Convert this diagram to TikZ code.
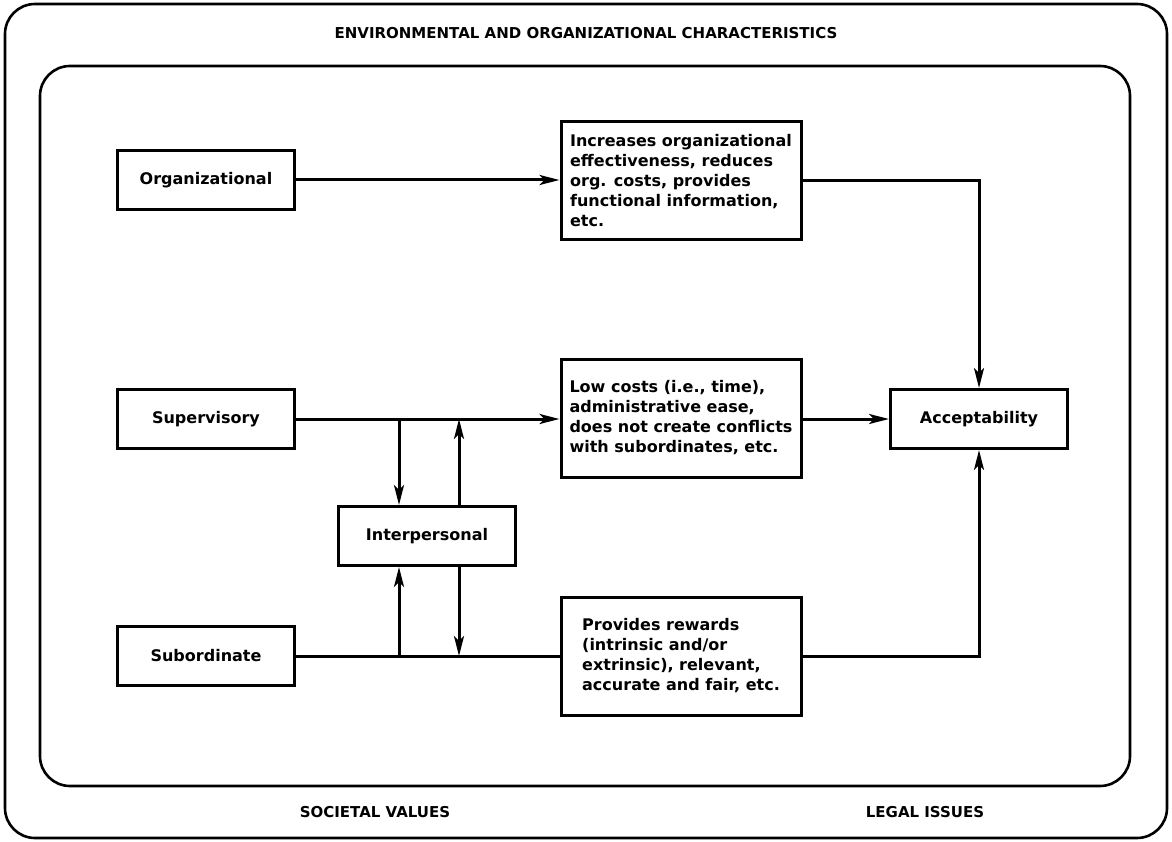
\documentclass[tikz,border=0pt]{standalone}
\usepackage{fontspec}
\setmainfont{DejaVu Sans}
\usetikzlibrary{arrows.meta,positioning}
\tikzset{
  frame line/.style={line width=2.6pt,rounded corners=30pt},
  frame text/.style={font=\fontsize{15}{17}\selectfont\bfseries,inner sep=2pt},
  factor box/.style={draw,line width=3pt,minimum width=177pt,minimum height=59pt,
    font=\fontsize{16}{20}\selectfont\bfseries,inner sep=4pt},
  outcome box/.style={draw,line width=3pt,minimum width=240pt,minimum height=118pt,
    align=left,font=\fontsize{16}{20}\selectfont\bfseries,inner sep=5pt},
  flow arrow/.style={-{Stealth[length=20pt,width=10pt,inset=5pt]},line width=3pt},
  flow line/.style={line width=3pt}
}
\begin{document}
\begin{tikzpicture}[x=1pt,y=-1pt]
  \useasboundingbox (0,0) rectangle (1172,842);
  % frames
  \draw[frame line] (5,4) rectangle (1167,838);
  \draw[frame line] (40,66) rectangle (1130,786);
  \node[frame text] (envtitle) at (586,33) {ENVIRONMENTAL AND ORGANIZATIONAL CHARACTERISTICS};
  \node[frame text] (societal) at (375,812) {SOCIETAL VALUES};
  \node[frame text] (legal) at (925,812) {LEGAL ISSUES};
  % sources
  \node[factor box] (org) at (206,180) {Organizational};
  \node[factor box] (sup) at (206,419) {Supervisory};
  \node[factor box] (sub) at (206,656) {Subordinate};
  \node[factor box] (inter) at (427,536) {Interpersonal};
  % outcomes
  \node[outcome box] (orgeff) at (681,181) {Increases organizational\\effectiveness, reduces\\org. costs, provides\\functional information,\\etc.};
  \node[outcome box] (supcost) at (681,418) {Low costs (i.e., time),\\administrative ease,\\does not create conflicts\\with subordinates, etc.};
  \node[outcome box] (subrew) at (681,656) {Provides rewards\\(intrinsic and/or\\extrinsic), relevant,\\accurate and fair, etc.};
  \node[factor box] (accept) at (979,419) {Acceptability};
  % links
  \coordinate (supA) at (399,419);
  \coordinate (supB) at (459,419);
  \coordinate (subA) at (399,656);
  \coordinate (subB) at (459,656);
  \draw[flow arrow] (org.east) -- (org.east -| orgeff.west);
  \draw[flow arrow] (sup.east) -- (sup.east -| supcost.west);
  \draw[flow line] (sub.east) -- (sub.east -| subrew.west);
  \draw[flow arrow] (orgeff.east) -| (accept.north);
  \draw[flow arrow] (supcost.east |- accept.west) -- (accept.west);
  \draw[flow arrow] (subrew.east) -| (accept.south);
  \draw[flow arrow] (supA) -- (supA |- inter.north);
  \draw[flow arrow] (supB |- inter.north) -- (supB);
  \draw[flow arrow] (subA) -- (subA |- inter.south);
  \draw[flow arrow] (subB |- inter.south) -- (subB);
\end{tikzpicture}
\end{document}
